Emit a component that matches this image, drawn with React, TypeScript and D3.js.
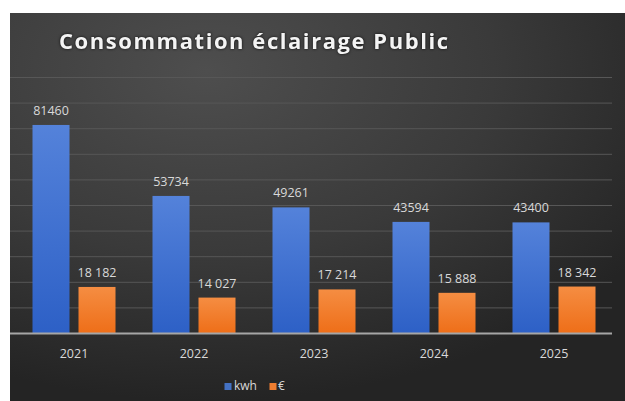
import * as d3 from "d3";

// chart data
const years = ["2021", "2022", "2023", "2024", "2025"];
const kwh = [81460, 53734, 49261, 43594, 43400];
const euros = [18182, 14027, 17214, 15888, 18342];
const euroLabels = ["18 182", "14 027", "17 214", "15 888", "18 342"];
const seriesNames = ["kwh", "€"];
const yTicks = [0, 10000, 20000, 30000, 40000, 50000, 60000, 70000, 80000, 90000, 100000];

export default function App() {
  const width = 625;
  const height = 401;
  const boxLeft = 10;
  const boxTop = 13;
  const plotLeft = 14;
  const plotRight = 614;
  const gridRight = 612;
  const marginTop = 77.5;
  const axisY = 333.5;
  const font = "'Open Sans', sans-serif";

  const x = d3.scaleBand<string>(years, [plotLeft, plotRight]);
  const y = d3.scaleLinear([0, 100000], [axisY, marginTop]);
  const barW = 37;
  const gap = 9;
  const inner = (x.bandwidth() - (barW * 2 + gap)) / 2;

  return (
    <svg
      width={width}
      height={height}
      style={{ position: "absolute", left: 0, top: 0 }}
      xmlns="http://www.w3.org/2000/svg"
    >
      <defs>
        <radialGradient id="bg" cx="0.32" cy="0.15" r="0.85">
          <stop offset="0" stopColor="#4e4e4e" />
          <stop offset="0.55" stopColor="#3a3a3a" />
          <stop offset="1" stopColor="#242424" />
        </radialGradient>
        <linearGradient id="blue" x1="0" y1="0" x2="0" y2="1">
          <stop offset="0" stopColor="#5482da" />
          <stop offset="1" stopColor="#2d60c6" />
        </linearGradient>
        <linearGradient id="orange" x1="0" y1="0" x2="0" y2="1">
          <stop offset="0" stopColor="#f58d42" />
          <stop offset="1" stopColor="#ee6e18" />
        </linearGradient>
      </defs>
      <rect x={0} y={0} width={width} height={height} fill="#ffffff" />
      <rect x={boxLeft} y={boxTop} width={width - boxLeft} height={height - boxTop} fill="url(#bg)" />

      <text
        x={59}
        y={49}
        fill="#f4f4f4"
        fontFamily={font}
        fontWeight={700}
        fontSize={22}
        letterSpacing={1.55}
        style={{ filter: "drop-shadow(0px 0px 1.5px rgba(0,0,0,0.8))" }}
      >
        Consommation éclairage Public
      </text>

      {/* gridlines */}
      {yTicks.slice(1).map(t => (
        <line key={t} x1={boxLeft} x2={gridRight} y1={y(t)} y2={y(t)} stroke="#575757" strokeWidth={1} />
      ))}

      {/* bars */}
      {years.map((yr, i) => {
        const x0 = (x(yr) ?? 0) + inner;
        const x1 = x0 + barW + gap;
        return (
          <g key={yr}>
            <rect x={x0} y={y(kwh[i])} width={barW} height={axisY - y(kwh[i])} fill="url(#blue)" />
            <rect x={x1} y={y(euros[i])} width={barW} height={axisY - y(euros[i])} fill="url(#orange)" />
            <text x={x0 + barW / 2} y={y(kwh[i]) - 10} textAnchor="middle" fill="#d9d9d9" fontFamily={font} fontSize={12.5}>
              {kwh[i]}
            </text>
            <text x={x1 + barW / 2} y={y(euros[i]) - 10} textAnchor="middle" fill="#d9d9d9" fontFamily={font} fontSize={12.5}>
              {euroLabels[i]}
            </text>
            <text x={(x(yr) ?? 0) + x.bandwidth() / 2} y={358} textAnchor="middle" fill="#d9d9d9" fontFamily={font} fontSize={12.5}>
              {yr}
            </text>
          </g>
        );
      })}

      {/* axis */}
      <line x1={boxLeft} x2={gridRight} y1={axisY} y2={axisY} stroke="#a6a6a6" strokeWidth={2} />

      {/* legend */}
      <rect x={224.5} y={383} width={7} height={7} fill="#4472c4" />
      <text x={234} y={390} fill="#d9d9d9" fontFamily={font} fontSize={12}>{seriesNames[0]}</text>
      <rect x={269.5} y={383} width={7} height={7} fill="#ed7d31" />
      <text x={278} y={390} fill="#d9d9d9" fontFamily={font} fontSize={12}>{seriesNames[1]}</text>
    </svg>
  );
}
